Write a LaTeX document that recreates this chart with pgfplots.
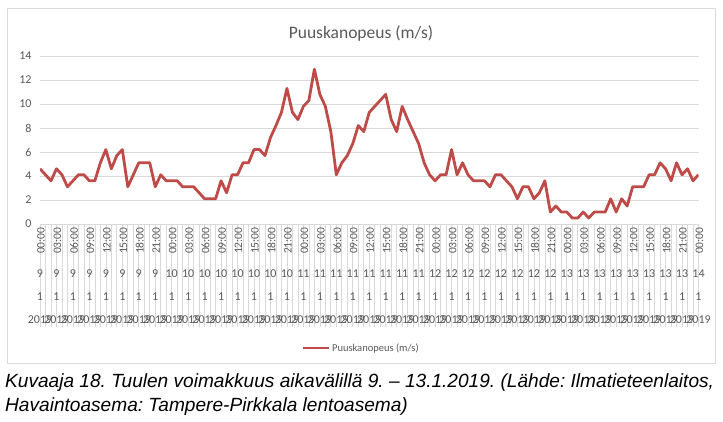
\documentclass[border=0pt]{standalone}
\usepackage{pgfplots}
\pgfplotsset{compat=1.18}
\usepackage{pgfplotstable}
\usepackage{fontspec}
\setmainfont{Carlito}
\newfontfamily\capfont{Liberation Sans}

\definecolor{lab}{RGB}{89,89,89}
\definecolor{gridc}{RGB}{217,217,217}
\definecolor{linec}{RGB}{190,75,72}

% hourly gusts, 9.1.2019 00:00 -> 14.1.2019 00:00
\pgfplotstableread{
h v
0 4.6
1 4.1
2 3.6
3 4.6
4 4.1
5 3.1
6 3.6
7 4.1
8 4.1
9 3.6
10 3.6
11 5.1
12 6.2
13 4.6
14 5.7
15 6.2
16 3.1
17 4.1
18 5.1
19 5.1
20 5.1
21 3.1
22 4.1
23 3.6
24 3.6
25 3.6
26 3.1
27 3.1
28 3.1
29 2.6
30 2.1
31 2.1
32 2.1
33 3.6
34 2.6
35 4.1
36 4.1
37 5.1
38 5.1
39 6.2
40 6.2
41 5.7
42 7.2
43 8.2
44 9.3
45 11.3
46 9.3
47 8.7
48 9.8
49 10.3
50 12.9
51 10.8
52 9.8
53 7.7
54 4.1
55 5.1
56 5.7
57 6.7
58 8.2
59 7.7
60 9.3
61 9.8
62 10.3
63 10.8
64 8.7
65 7.7
66 9.8
67 8.7
68 7.7
69 6.7
70 5.1
71 4.1
72 3.6
73 4.1
74 4.1
75 6.2
76 4.1
77 5.1
78 4.1
79 3.6
80 3.6
81 3.6
82 3.1
83 4.1
84 4.1
85 3.6
86 3.1
87 2.1
88 3.1
89 3.1
90 2.1
91 2.6
92 3.6
93 1.0
94 1.5
95 1.0
96 1.0
97 0.5
98 0.5
99 1.0
100 0.5
101 1.0
102 1.0
103 1.0
104 2.1
105 1.0
106 2.1
107 1.5
108 3.1
109 3.1
110 3.1
111 4.1
112 4.1
113 5.1
114 4.6
115 3.6
116 5.1
117 4.1
118 4.6
119 3.6
120 4.1
}\gusts

\begin{document}
\frenchspacing
\begin{tikzpicture}[x=1pt,y=1pt]
\useasboundingbox (0,0) rectangle (723,422);
\draw[gridc, line width=0.9pt] (7,59) rectangle (715,414);

\pgfplotsset{
  chartbox/.style={
    at={(40pt,198pt)}, anchor=south west, scale only axis,
    width=658.5pt, height=168pt,
    xmin=0, xmax=120, ymin=0, ymax=14,
    axis line style={draw=none},
  }
}

% hourly separator lines in the label band
\begin{axis}[chartbox,
  ytick=\empty,
  xtick={0,1,...,120},
  xticklabels={},
  xtick pos=bottom,
  tick align=outside,
  major tick length=103pt,
  xtick style={draw=gridc, line width=0.7pt},
]
\end{axis}

\begin{axis}[chartbox,
  ytick={0,2,...,14},
  ymajorgrids, grid style={draw=gridc, line width=0.9pt},
  ytick style={draw=none},
  yticklabel style={font=\fontsize{12}{12}\selectfont, color=lab, xshift=-5pt},
  /pgf/number format/assume math mode=true,
  xtick={0,3,...,120},
  xtick style={draw=none},
  xticklabels={00:00,03:00,06:00,09:00,12:00,15:00,18:00,21:00,
               00:00,03:00,06:00,09:00,12:00,15:00,18:00,21:00,
               00:00,03:00,06:00,09:00,12:00,15:00,18:00,21:00,
               00:00,03:00,06:00,09:00,12:00,15:00,18:00,21:00,
               00:00,03:00,06:00,09:00,12:00,15:00,18:00,21:00,00:00},
  xticklabel style={rotate=90, anchor=east, font=\fontsize{11.5}{12}\selectfont, color=lab, yshift=-1pt},
  title={Puuskanopeus (m/s)},
  title style={at={(0.4875,1)}, anchor=center, yshift=16pt,
    font=\fontsize{17.5}{19}\selectfont, color=lab},
  legend style={at={(0.4875,-0.738)}, anchor=center, draw=none,
    font=\fontsize{10.5}{12}\selectfont, text=lab},
  legend image code/.code={\draw[#1] (0pt,0pt) -- (26pt,0pt);},
]
\addplot[linec, line width=2.8pt, line join=round, no marks] table[x=h, y=v] {\gusts};
\addlegendentry{Puuskanopeus (m/s)}
\end{axis}

\begin{axis}[chartbox,
  ytick=\empty,
  xtick={0,3,...,120},
  xtick style={draw=none},
  xticklabels={
    {9\\1\\2019},{9\\1\\2019},{9\\1\\2019},{9\\1\\2019},{9\\1\\2019},{9\\1\\2019},{9\\1\\2019},{9\\1\\2019},
    {10\\1\\2019},{10\\1\\2019},{10\\1\\2019},{10\\1\\2019},{10\\1\\2019},{10\\1\\2019},{10\\1\\2019},{10\\1\\2019},
    {11\\1\\2019},{11\\1\\2019},{11\\1\\2019},{11\\1\\2019},{11\\1\\2019},{11\\1\\2019},{11\\1\\2019},{11\\1\\2019},
    {12\\1\\2019},{12\\1\\2019},{12\\1\\2019},{12\\1\\2019},{12\\1\\2019},{12\\1\\2019},{12\\1\\2019},{12\\1\\2019},
    {13\\1\\2019},{13\\1\\2019},{13\\1\\2019},{13\\1\\2019},{13\\1\\2019},{13\\1\\2019},{13\\1\\2019},{13\\1\\2019},
    {14\\1\\2019}},
  xticklabel style={align=center, anchor=north, font=\fontsize{12}{23}\selectfont,
    color=lab, yshift=-42pt},
]
\end{axis}

\node[anchor=west, inner sep=0pt, font=\capfont\itshape\fontsize{19.1}{20}\selectfont]
  at (5,39) {Kuvaaja 18. Tuulen voimakkuus aikavälillä 9. – 13.1.2019. (Lähde: Ilmatieteenlaitos,};
\node[anchor=west, inner sep=0pt, font=\capfont\itshape\fontsize{19.1}{20}\selectfont]
  at (5,15) {Havaintoasema: Tampere-Pirkkala lentoasema)};
\end{tikzpicture}
\end{document}
